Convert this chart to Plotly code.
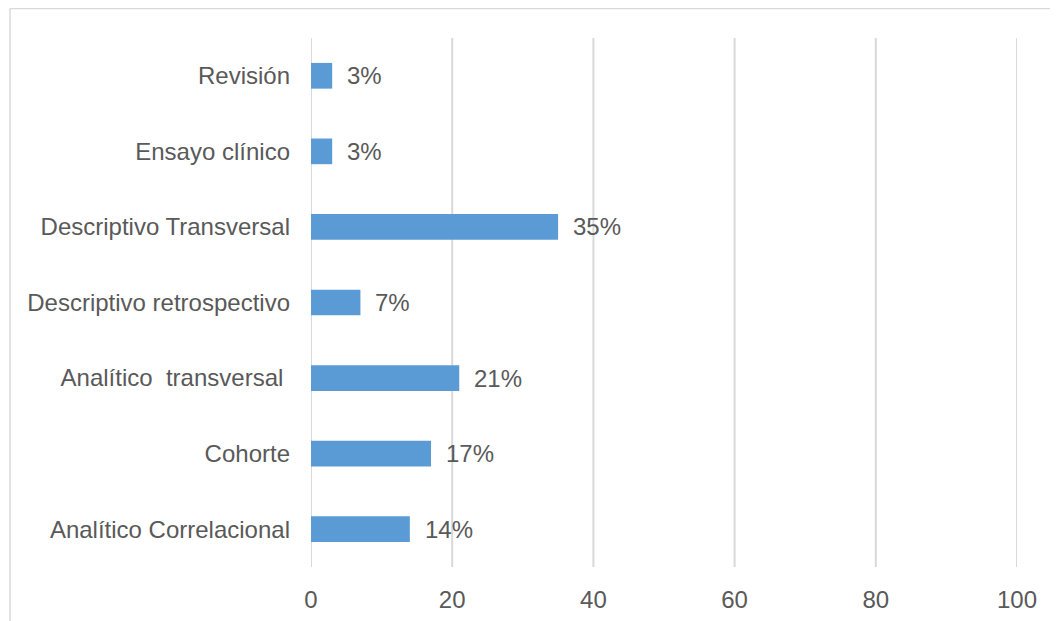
import plotly.graph_objects as go

categories = ["Analítico Correlacional", "Cohorte", "Analítico  transversal ",
              "Descriptivo retrospectivo", "Descriptivo Transversal",
              "Ensayo clínico", "Revisión"]
values = [14, 17, 21, 7, 35, 3, 3]
labels = [f"{v}%" for v in values]
x_ticks = [0, 20, 40, 60, 80, 100]

TXT = "#595959"
BAR = "#5B9BD5"
GRID = "#D9D9D9"
FONT = "Arial, Liberation Sans, sans-serif"
FS = 24

# page has an 8px body margin, so the figure is laid out 8px in from the window edge
W, H = 1050, 613
ml, mr, mt, mb = 303, 41, 30, 54
pw, ph = W - ml - mr, H - mt - mb

fig = go.Figure(go.Bar(
    x=values, y=categories, orientation="h",
    marker=dict(color=BAR, line=dict(width=0)),
    width=0.34, hoverinfo="skip",
))

for c, v, t in zip(categories, values, labels):
    fig.add_annotation(x=v, y=c, text=t, showarrow=False, xanchor="left",
                       xshift=13, font=dict(size=FS, color=TXT, family=FONT))

# vertical gridlines (including the edges at 0 and 100)
for xv in x_ticks:
    fig.add_shape(type="line", xref="x", yref="paper", x0=xv, x1=xv, y0=0, y1=1,
                  line=dict(color=GRID, width=2), layer="below")

# outer chart border (top and left visible)
bx = (2 - ml) / pw
by = 1 + (mt - 0.5) / ph
fig.add_shape(type="line", xref="paper", yref="paper", x0=bx, x1=2, y0=by, y1=by,
              line=dict(color=GRID, width=1.5))
fig.add_shape(type="line", xref="paper", yref="paper", x0=bx, x1=bx, y0=-2, y1=by,
              line=dict(color=GRID, width=1.5))

fig.update_layout(
    width=W, height=H,
    margin=dict(l=ml, r=mr, t=mt, b=mb, autoexpand=False),
    paper_bgcolor="white", plot_bgcolor="white",
    showlegend=False,
    font=dict(family=FONT, size=FS, color=TXT),
    xaxis=dict(range=[0, 100], tickvals=x_ticks, showgrid=False, automargin=False,
               zeroline=False, showline=False, ticks="", ticklabelstandoff=16,
               tickfont=dict(size=FS, color=TXT), fixedrange=True),
    yaxis=dict(categoryorder="array", categoryarray=categories, showgrid=False,
               automargin=False,
               zeroline=False, showline=False, ticks="", ticklabelstandoff=20,
               tickfont=dict(size=FS, color=TXT), range=[-0.5, 6.5], fixedrange=True),
)
fig.write_html("out.html", config={"displayModeBar": False})
